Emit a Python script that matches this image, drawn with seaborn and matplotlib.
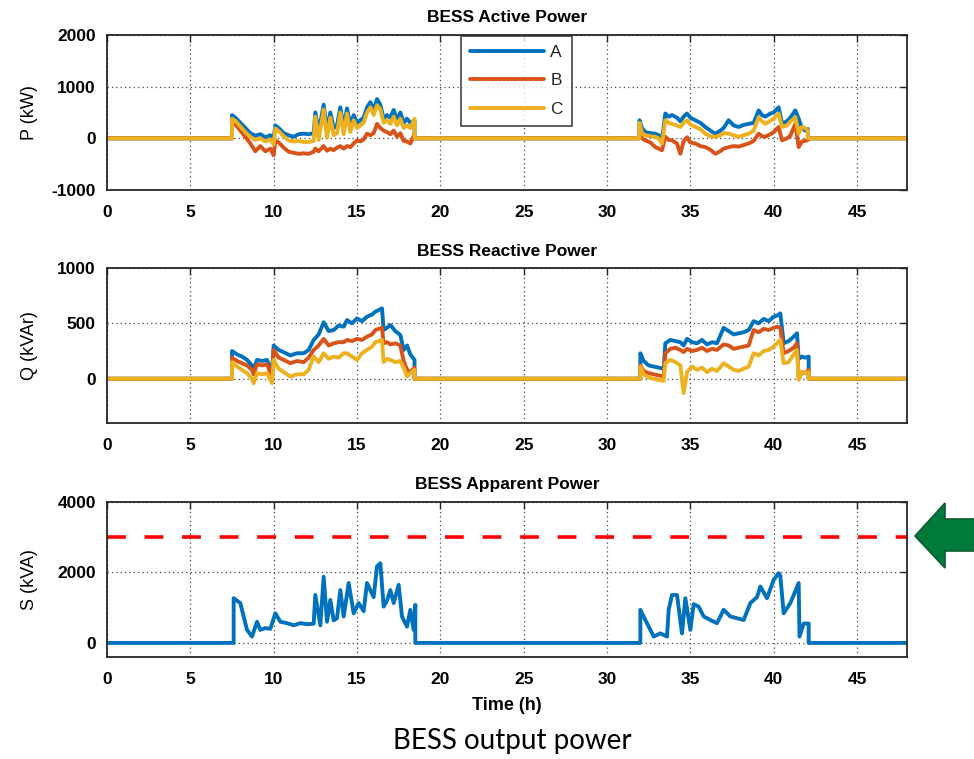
import numpy as np
import pandas as pd
import matplotlib
matplotlib.use("Agg")
import matplotlib.pyplot as plt
import seaborn as sns
from matplotlib.patches import Polygon

sns.set_theme(style="white")
plt.rcParams["font.family"] = ["Liberation Sans", "DejaVu Sans"]

# ---------------- data ----------------
phases = ["A", "B", "C"]
colors = ["#0072BD", "#D95319", "#EDB120"]
x_ticks = [0, 5, 10, 15, 20, 25, 30, 35, 40, 45]
p_ticks = [-1000, 0, 1000, 2000]
q_ticks = [0, 500, 1000]
s_ticks = [0, 2000, 4000]
s_limit = [3000]

# Active power, day 1 (kW)
tP1 = [7.5, 7.7, 8.0, 8.3, 8.6, 8.9, 9.2, 9.5, 9.8, 10.0,
       10.1, 10.3, 10.6, 10.9, 11.2, 11.5, 11.8, 12.1, 12.4, 12.5,
       12.7, 13.0, 13.2, 13.4, 13.6, 13.8, 14.0, 14.2, 14.4, 14.6,
       14.8, 15.0, 15.2, 15.4, 15.6, 15.8, 16.0, 16.2, 16.4, 16.6,
       16.8, 17.0, 17.2, 17.4, 17.6, 17.8, 18.0, 18.2, 18.45]
pA1 = [450, 400, 300, 200, 100, 50, 80, 20, 60, 0,
       250, 200, 100, 60, 30, 80, 90, 80, 100, 500,
       120, 650, 150, 500, 200, 250, 600, 200, 580, 250,
       450, 300, 350, 400, 600, 700, 550, 760, 650, 380,
       450, 400, 550, 350, 500, 300, 380, 300, 350]
pB1 = [320, 270, 150, 30, -100, -250, -150, -250, -200, -330,
       -40, -80, -180, -260, -280, -300, -290, -300, -260, -200,
       -250, -150, -240, -200, -230, -180, -150, -200, -150, -170,
       -100, -40, -60, -20, 90, 60, 100, 280, 200, 150,
       120, 80, 150, 30, 100, -50, -60, -100, 80]
pC1 = [380, 340, 230, 120, 30, -30, 0, -60, -20, -120,
       190, 140, 40, -40, -60, -50, -70, -70, -50, 420,
       -30, 560, 10, 400, 60, 100, 500, 80, 480, 120,
       350, 200, 250, 300, 500, 600, 450, 640, 560, 300,
       350, 280, 420, 250, 380, 200, 250, 200, 380]

# Active power, day 2 (kW)
tP2 = [31.95, 32.1, 32.3, 32.6, 32.9, 33.1, 33.3, 33.5, 33.7, 33.9,
       34.2, 34.4, 34.6, 34.8, 35.0, 35.3, 35.6, 35.9, 36.2, 36.5,
       36.8, 37.0, 37.3, 37.6, 37.9, 38.2, 38.5, 38.8, 39.1, 39.3,
       39.5, 39.8, 40.0, 40.3, 40.5, 40.8, 41.0, 41.3, 41.5, 41.7,
       41.9, 42.05]
pA2 = [350, 200, 120, 100, 90, 60, -30, 480, 420, 450,
       400, 330, 420, 480, 400, 350, 300, 220, 150, 90,
       150, 200, 350, 250, 220, 260, 280, 300, 540, 450,
       420, 480, 500, 600, 290, 330, 400, 540, 380, 200,
       150, 180]
pB2 = [150, 0, -40, -80, -170, -200, -230, 30, -30, -40,
       -100, -300, -50, 20, -80, -100, -150, -170, -220, -300,
       -250, -200, -170, -150, -160, -130, -100, -50, 90, 40,
       30, 80, 120, 220, -40, 0, 50, 280, -170, -60,
       -50, -30]
pC2 = [300, 100, 60, 40, 30, 0, -100, 350, 300, 280,
       250, 220, 300, 350, 270, 220, 180, 90, 40, 30,
       60, 100, 90, 60, 30, 60, 90, 150, 410, 330,
       280, 340, 380, 480, 220, 250, 320, 410, 90, 220,
       200, 150]

# Reactive power, day 1 (kVAr)
tQ1 = [7.5, 7.8, 8.1, 8.4, 8.7, 8.8, 9.0, 9.3, 9.6, 9.9,
       10.0, 10.3, 10.6, 11.0, 11.4, 11.8, 12.1, 12.4, 12.7, 13.0,
       13.3, 13.6, 13.9, 14.2, 14.4, 14.7, 15.0, 15.3, 15.6, 15.9,
       16.1, 16.3, 16.5, 16.6, 16.8, 17.0, 17.3, 17.6, 17.8, 18.0,
       18.2, 18.45]
qA1 = [250, 220, 200, 170, 120, 80, 170, 160, 170, 60,
       300, 260, 240, 210, 230, 230, 260, 350, 400, 510,
       430, 440, 480, 470, 530, 500, 545, 520, 560, 580,
       605, 620, 635, 440, 460, 485, 430, 395, 260, 300,
       220, 170]
qB1 = [190, 160, 140, 120, 80, 40, 130, 120, 130, 20,
       260, 190, 170, 140, 160, 150, 190, 260, 300, 360,
       300, 320, 330, 330, 350, 340, 360, 350, 380, 400,
       440, 450, 460, 320, 330, 310, 320, 300, 160, 80,
       60, 100]
qC1 = [150, 110, 80, 50, 0, -40, 50, 40, 50, -40,
       170, 90, 60, 20, 40, 40, 80, 200, 150, 230,
       180, 200, 190, 230, 230, 200, 170, 230, 260, 290,
       330, 340, 350, 150, 180, 170, 150, 160, 100, 20,
       50, 80]

# Reactive power, day 2 (kVAr)
tQ2 = [32.0, 32.2, 32.5, 32.8, 33.1, 33.4, 33.5, 33.8, 34.1, 34.4,
       34.6, 34.8, 35.1, 35.4, 35.7, 36.0, 36.3, 36.6, 37.0, 37.3,
       37.6, 37.9, 38.2, 38.5, 38.8, 39.1, 39.4, 39.7, 40.0, 40.2,
       40.4, 40.6, 40.9, 41.2, 41.4, 41.5, 41.7, 41.9, 42.1]
qA2 = [230, 160, 120, 110, 100, 90, 320, 350, 340, 330,
       300, 360, 330, 320, 350, 310, 330, 320, 460, 430,
       400, 410, 420, 440, 520, 500, 540, 520, 560, 570,
       590, 320, 340, 380, 410, 180, 200, 190, 200]
qB2 = [120, 70, 50, 40, 30, 20, 230, 270, 280, 260,
       240, 270, 250, 260, 280, 250, 270, 260, 310, 300,
       270, 280, 290, 300, 440, 420, 450, 440, 460, 470,
       460, 230, 250, 280, 320, 0, 60, 50, 80]
qC2 = [110, 40, 10, 0, -10, -20, 140, 170, 150, 120,
       -130, 60, 110, 80, 100, 60, 90, 70, 140, 110,
       80, 70, 90, 110, 230, 210, 250, 260, 290, 320,
       350, 140, 150, 220, 260, -10, 60, 50, 60]

# Apparent power (kVA)
tS1 = [7.6, 8.0, 8.4, 8.7, 9.0, 9.2, 9.5, 9.8, 10.1, 10.4,
       10.8, 11.2, 11.6, 12.0, 12.4, 12.5, 12.8, 13.0, 13.2, 13.4,
       13.6, 13.8, 14.0, 14.2, 14.5, 14.8, 15.1, 15.4, 15.6, 15.8,
       16.0, 16.2, 16.4, 16.6, 16.8, 17.0, 17.2, 17.5, 17.7, 18.0,
       18.2, 18.4, 18.5]
sA1 = [1270, 1130, 370, 180, 600, 370, 420, 400, 840, 600,
       560, 500, 560, 530, 545, 1360, 500, 1880, 600, 1220,
       640, 700, 1500, 750, 1700, 840, 1130, 900, 1700, 1500,
       1300, 2170, 2260, 1030, 1200, 1500, 1130, 1650, 750, 460,
       940, 370, 1080]
tS2 = [32.0, 32.3, 32.6, 32.8, 33.2, 33.6, 33.7, 33.9, 34.2, 34.5,
       34.7, 35.0, 35.2, 35.5, 35.8, 36.2, 36.6, 37.0, 37.4, 37.8,
       38.2, 38.6, 39.0, 39.2, 39.6, 40.0, 40.3, 40.4, 40.6, 41.0,
       41.5, 41.55, 41.8, 42.1]
sA2 = [940, 650, 370, 180, 270, 180, 940, 1360, 1360, 270,
       1270, 370, 1100, 1030, 750, 650, 560, 940, 750, 700,
       650, 1130, 1300, 1600, 1270, 1790, 1980, 1900, 840, 1130,
       1700, 180, 550, 550]

T_START, T_END = 0.0, 48.0


def full(t1, v1, t2, v2):
    t = [T_START, t1[0]] + list(t1) + [t1[-1], t2[0]] + list(t2) + [t2[-1], T_END]
    v = [0, 0] + list(v1) + [0, 0] + list(v2) + [0, 0]
    return t, v


def long_df(series):
    frames = []
    for name, (t, v) in series.items():
        frames.append(pd.DataFrame({"t": t, "v": v, "phase": name}))
    return pd.concat(frames, ignore_index=True)


dfP = long_df({"A": full(tP1, pA1, tP2, pA2),
               "B": full(tP1, pB1, tP2, pB2),
               "C": full(tP1, pC1, tP2, pC2)})
dfQ = long_df({"A": full(tQ1, qA1, tQ2, qA2),
               "B": full(tQ1, qB1, tQ2, qB2),
               "C": full(tQ1, qC1, tQ2, qC2)})
dfS = long_df({"A": full(tS1, sA1, tS2, sA2)})

# ---------------- figure ----------------
W, H = 974, 759
fig = plt.figure(figsize=(W / 100, H / 100), dpi=100)
fig.patch.set_facecolor("white")


def axes_px(left, top, right, bottom):
    return fig.add_axes([left / W, 1 - bottom / H, (right - left) / W, (bottom - top) / H])


ax1 = axes_px(107, 35, 907, 190)
ax2 = axes_px(107, 268, 907, 423)
ax3 = axes_px(107, 502, 907, 657)

LW = 2.8
pal = dict(zip(phases, colors))

sns.lineplot(data=dfP, x="t", y="v", hue="phase", palette=pal, sort=False,
             estimator=None, lw=LW, ax=ax1, legend=False)
sns.lineplot(data=dfQ, x="t", y="v", hue="phase", palette=pal, sort=False,
             estimator=None, lw=LW, ax=ax2, legend=False)
ax3.axhline(s_limit[0], color="#FF0000", lw=2.6, dashes=(5.2, 5.2))
sns.lineplot(data=dfS, x="t", y="v", hue="phase", palette={"A": colors[0]}, sort=False,
             estimator=None, lw=LW, ax=ax3, legend=False)

specs = [
    (ax1, "BESS Active Power", "P (kW)", (-1000, 2000), p_ticks),
    (ax2, "BESS Reactive Power", "Q (kVAr)", (-400, 1000), q_ticks),
    (ax3, "BESS Apparent Power", "S (kVA)", (-400, 4000), s_ticks),
]
for ax, title, ylab, ylim, yt in specs:
    ax.set_xlim(0, 48)
    ax.set_ylim(*ylim)
    ax.set_xticks(x_ticks)
    ax.set_yticks(yt)
    ax.set_xticklabels([str(v) for v in x_ticks], fontsize=12.5, fontweight="bold")
    ax.set_yticklabels([str(v) for v in yt], fontsize=12.5, fontweight="bold")
    ax.tick_params(direction="in", length=5, width=1.0, top=True, right=True,
                   colors="#262626", labelcolor="black")
    ax.tick_params(axis="x", pad=11)
    ax.tick_params(axis="y", pad=8)
    ax.grid(True, linestyle=(0, (1, 2.5)), color="#444444", lw=0.9)
    ax.set_axisbelow(True)
    for s in ax.spines.values():
        s.set_color("#262626")
        s.set_linewidth(1.3)
        s.set_visible(True)
    ax.set_title(title, fontsize=12.5, fontweight="bold", pad=9, color="black")
    ax.set_ylabel(ylab, fontsize=13, color="black")
    ax.set_xlabel("")
    ax.set_facecolor("white")

for ax in (ax1, ax2, ax3):
    ax.yaxis.set_label_coords(-0.086, 0.5)

ax3.set_xlabel("Time (h)", fontsize=13, fontweight="bold", color="black", labelpad=7)

# legend
handles = [plt.Line2D([], [], color=c, lw=LW) for c in colors]
leg = ax1.legend(handles, phases, loc="upper left", bbox_to_anchor=(0.4425, 0.995),
                 fontsize=12.5, handlelength=4.3, handletextpad=0.35,
                 labelspacing=0.78, borderpad=0.5, frameon=True, fancybox=False,
                 borderaxespad=0)
leg.get_frame().set_edgecolor("#262626")
leg.get_frame().set_linewidth(1.3)

# caption
fig.text(512 / W, 1 - 741 / H, "BESS output power", ha="center", va="center",
         fontsize=20, color="black", family=["Lato", "DejaVu Sans"])

# green arrow annotation
pts_px = [(915, 536), (945, 503), (945, 519), (980, 519), (980, 551), (945, 551), (945, 568)]
arrow = Polygon([(x / W, 1 - y / H) for x, y in pts_px], closed=True,
                transform=fig.transFigure, facecolor="#007A3A", edgecolor="#0B5E2E",
                lw=1.2, clip_on=False)
fig.patches.append(arrow)

fig.savefig("out.png", dpi=100, facecolor="white")
